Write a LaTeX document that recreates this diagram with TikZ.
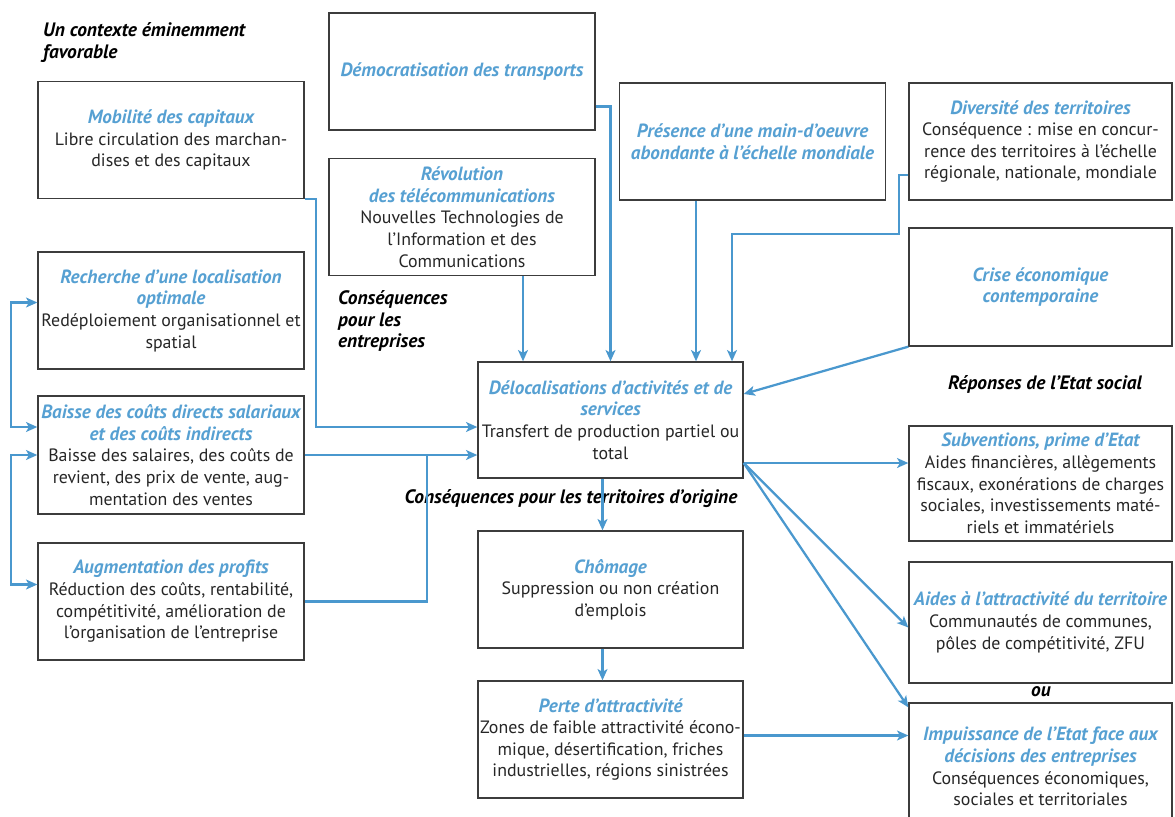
\documentclass[tikz,border=0pt]{standalone}
\usepackage{fontspec}
\setmainfont{PT Sans}
\usetikzlibrary{positioning, calc, arrows.meta}
\definecolor{tblue}{RGB}{86,160,210}
\definecolor{lblue}{RGB}{74,152,206}
\definecolor{bgrey}{RGB}{60,60,60}
\newcommand{\titre}[1]{{\fontsize{13.6}{15.4}\selectfont\color{tblue}\bfseries\itshape #1}}

\begin{document}
\begin{tikzpicture}[x=0.025cm, y=-0.025cm,
      >={Stealth[length=8pt, width=7pt, inset=2pt]}, ->,
      line width=1.6pt, draw=lblue,
      box/.style={draw=bgrey, line width=0.9pt, text=black!85, align=center,
        minimum width=6.65cm, minimum height=2.925cm, inner sep=1pt,
        font=\fontsize{12.7}{15.4}\selectfont},
      rubrique/.style={font=\fontsize{13.8}{15.6}\selectfont\bfseries\itshape,
        text=black, align=left, inner sep=0pt}]
      \useasboundingbox (0,0) rectangle (1175,816);
      % contexte
      \node[rubrique, anchor=north west] (contexte) at (42,21) {Un contexte éminemment\\favorable};
      \node[box] (mobilite) at (171,140) {\titre{Mobilité des capitaux}\\Libre circulation des marchan-\\dises et des capitaux};
      \node[box] (transports) at (462,71.5) {\titre{Démocratisation des transports}};
      \node[box] (telecom) at (462,217) {\titre{Révolution}\\\titre{des télécommunications}\\Nouvelles Technologies de\\l’Information et des\\Communications};
      \node[box, minimum height=2.925cm] (maindoeuvre) at (752.5,141.5) {\titre{Présence d’une main-d’oeuvre}\\\titre{abondante à l’échelle mondiale}};
      \node[box, minimum width=6.575cm, minimum height=2.925cm] (diversite) at (1040.5,141.5) {\titre{Diversité des territoires}\\Conséquence : mise en concur-\\rence des territoires à l’échelle\\régionale, nationale, mondiale};
      \node[box, minimum width=6.575cm, minimum height=2.95cm] (crise) at (1040.5,287) {\titre{Crise économique}\\\titre{contemporaine}};
      % entreprises
      \node[rubrique, anchor=north west] (csqent) at (337,289) {Conséquences\\pour les\\entreprises};
      \node[box] (localisation) at (171,310.5) {\titre{Recherche d’une localisation}\\\titre{optimale}\\Redéploiement organisationnel et\\spatial};
      \node[box, minimum height=2.95cm] (couts) at (171,455) {\titre{Baisse des coûts directs salariaux}\\\titre{et des coûts indirects}\\Baisse des salaires, des coûts de\\revient, des prix de vente, aug-\\mentation des ventes};
      \node[box] (profits) at (171,601.5) {\titre{Augmentation des profits}\\Réduction des coûts, rentabilité,\\compétitivité, amélioration de\\l’organisation de l’entreprise};
      % delocalisation
      \node[box, minimum width=6.625cm, minimum height=2.9cm] (deloc) at (610.5,420) {\titre{Délocalisations d’activités et de}\\\titre{services}\\Transfert de production partiel ou\\total};
      \node[rubrique] (csqterr) at (571,499) {Conséquences pour les territoires d’origine};
      \node[box, minimum width=6.625cm] (chomage) at (610.5,589.5) {\titre{Chômage}\\Suppression ou non création\\d’emplois};
      \node[box, minimum width=6.625cm] (attractivite) at (610.5,739.5) {\titre{Perte d’attractivité}\\Zones de faible attractivité écono-\\mique, désertification, friches\\industrielles, régions sinistrées};
      % Etat social
      \node[rubrique] (reponses) at (1045,384) {Réponses de l’Etat social};
      \node[box, minimum width=6.575cm, minimum height=2.875cm] (subventions) at (1040.5,483.5) {\titre{Subventions, prime d’Etat}\\Aides financières, allègements\\fiscaux, exonérations de charges\\sociales, investissements maté-\\riels et immatériels};
      \node[box, minimum width=6.575cm, minimum height=3.025cm] (aides) at (1040.5,622.5) {\titre{Aides à l’attractivité du territoire}\\Communautés de communes,\\pôles de compétitivité, ZFU};
      \node[rubrique] (ou) at (1041,692) {ou};
      \node[box, minimum width=6.575cm, minimum height=3.175cm] (impuissance) at (1040.5,766.5) {\titre{Impuissance de l’Etat face aux}\\\titre{décisions des entreprises}\\Conséquences économiques,\\sociales et territoriales};
      % vers la delocalisation
      \draw ($(transports.east)+(0,35)$) -| (deloc.north);
      \draw (523,0 |- telecom.south) -- (523,0 |- deloc.north);
      \draw (696,0 |- maindoeuvre.south) -- (696,0 |- deloc.north);
      \draw (diversite.west |- 0,175) -- (899,175) |- (732,234) -- (732,0 |- deloc.north);
      \draw (crise.south west) -- ($(deloc.east)+(0,-26)$);
      \draw (mobilite.south east) -- ++(11,0) |- ($(deloc.west)+(0,7)$);
      \draw (couts.east) -- (couts.east -| deloc.west);
      \draw[-] (profits.east) -| (427,0 |- couts.east);
      % entre les consequences
      \draw[<->] ($(localisation.west)+(0,-8)$) -- ++(-26,0) |- ($(couts.west)+(0,-28)$);
      \draw[<->] (couts.west) -- ++(-26,0) |- ($(profits.west)+(0,-17)$);
      % territoires d'origine
      \draw ($(deloc.south)+(-8,0)$) -- ($(chomage.north)+(-8,0)$);
      \draw ($(chomage.south)+(-8,0)$) -- ($(attractivite.north)+(-8,0)$);
      \draw ($(attractivite.east)+(0,-4)$) -- ($(attractivite.east -| impuissance.west)+(0,-4)$);
      % reponses
      \coordinate (sortie) at ($(deloc.east)+(0,43)$);
      \draw (sortie) -- (sortie -| subventions.west);
      \draw (sortie) -- ($(aides.west)+(0,5)$);
      \draw (sortie) -- ($(impuissance.north west)+(0,5)$);
\end{tikzpicture}
\end{document}
